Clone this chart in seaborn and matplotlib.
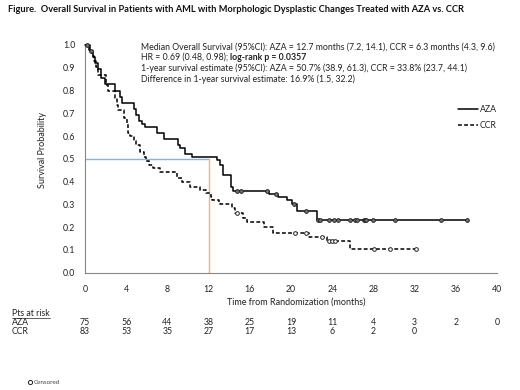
import numpy as np
import pandas as pd
import matplotlib
matplotlib.use("Agg")
import matplotlib.pyplot as plt
import matplotlib.transforms as mtransforms
from matplotlib.lines import Line2D
import seaborn as sns

# ---------------- data ----------------
aza_time = [0, 0.5, 0.8, 1.0, 1.3, 1.6, 1.95, 2.9, 3.4, 3.57, 4.75, 4.95, 5.2, 5.5, 5.85,
            7.0, 7.7, 9.0, 9.2, 9.75, 10.4, 12.8, 13.1, 13.4, 14.2, 14.4, 17.85, 18.7,
            19.6, 20.1, 20.6, 22.5, 37.1]
aza_surv = [1.0, 0.973, 0.947, 0.92, 0.893, 0.853, 0.827, 0.80, 0.773, 0.747, 0.72, 0.693,
            0.667, 0.653, 0.64, 0.613, 0.587, 0.56, 0.547, 0.52, 0.507, 0.493, 0.473, 0.429,
            0.378, 0.36, 0.347, 0.333, 0.318, 0.30, 0.271, 0.231, 0.231]
ccr_time = [0, 0.4, 0.65, 0.9, 1.1, 1.3, 2.04, 2.2, 2.92, 3.08, 3.2, 3.83, 4.06, 4.2, 4.38,
            4.75, 4.96, 5.36, 5.68, 5.94, 6.17, 6.65, 7.3, 8.93, 9.4, 10.2, 11.2, 11.7, 12.2,
            12.35, 13.0, 13.1, 14.3, 14.6, 15.3, 15.7, 17.4, 18.3, 21.7, 23.5, 25.7, 32.1]
ccr_surv = [1.0, 0.976, 0.952, 0.928, 0.904, 0.87, 0.826, 0.797, 0.767, 0.738, 0.716, 0.679,
            0.657, 0.613, 0.599, 0.577, 0.56, 0.53, 0.51, 0.49, 0.475, 0.46, 0.444, 0.414,
            0.40, 0.378, 0.363, 0.35, 0.334, 0.319, 0.307, 0.30, 0.283, 0.261, 0.239, 0.224,
            0.202, 0.176, 0.158, 0.141, 0.104, 0.104]
aza_censor = [0.15, 0.6, 14.8, 15.1, 17.7, 18.5, 20.3, 21.5, 22.6, 22.8, 23.7, 24.2, 24.6,
              25.7, 26.2, 26.4, 27.1, 27.2, 27.3, 28.0, 30.1, 34.6, 37.1]
ccr_censor = [14.8, 20.4, 21.5, 23.0, 23.7, 23.95, 24.3, 28.1, 29.6, 32.1]

risk_times = [0, 4, 8, 12, 16, 20, 24, 28, 32, 36, 40]
aza_risk = [75, 56, 44, 38, 25, 19, 11, 4, 3, 2, 0]
ccr_risk = [83, 53, 35, 27, 17, 13, 6, 2, 0]

median_time = 12
median_surv = 0.5

title = "Figure.  Overall Survival in Patients with AML with Morphologic Dysplastic Changes Treated with AZA vs. CCR"
ann1 = "Median Overall Survival (95%CI): AZA = 12.7 months (7.2, 14.1), CCR = 6.3 months (4.3, 9.6)"
ann2a = "HR = 0.69 (0.48, 0.98); "
ann2b = "log-rank p = 0.0357"
ann3 = "1-year survival estimate (95%CI): AZA = 50.7% (38.9, 61.3), CCR = 33.8% (23.7, 44.1)"
ann4 = "Difference in 1-year survival estimate: 16.9% (1.5, 32.2)"

# ---------------- style ----------------
sns.set_style("white")
FONT = ["Lato", "DejaVu Sans"]
plt.rcParams["font.family"] = FONT
plt.rcParams["font.size"] = 6

df = pd.concat([
    pd.DataFrame({"time": aza_time, "surv": aza_surv, "arm": "AZA"}),
    pd.DataFrame({"time": ccr_time, "surv": ccr_surv, "arm": "CCR"}),
], ignore_index=True)


def step_value(times, survs, t):
    i = np.searchsorted(np.asarray(times), t, side="right") - 1
    return survs[max(i, 0)]


cens = pd.concat([
    pd.DataFrame({"time": aza_censor,
                  "surv": [step_value(aza_time, aza_surv, t) for t in aza_censor], "arm": "AZA"}),
    pd.DataFrame({"time": ccr_censor,
                  "surv": [step_value(ccr_time, ccr_surv, t) for t in ccr_censor], "arm": "CCR"}),
], ignore_index=True)

fig = plt.figure(figsize=(5.2, 3.9), dpi=100)
ax = fig.add_axes([85 / 520, 1 - 272.7 / 390, 412 / 520, 227.7 / 390])

spine_c = "#868686"
blue = "#7db9d8"
orange = "#f0b283"

ax.plot([0, median_time], [median_surv, median_surv], color=blue, lw=1.0, zorder=1)
ax.plot([median_time, median_time], [0, median_surv], color=orange, lw=1.0, zorder=1)

sns.lineplot(data=df, x="time", y="surv", hue="arm", style="arm",
             palette={"AZA": "black", "CCR": "black"},
             dashes={"AZA": "", "CCR": (2.5, 1.5)},
             drawstyle="steps-post", estimator=None, sort=False,
             linewidth=1.1, legend=False, ax=ax, zorder=3)
for ln in ax.get_lines():
    ln.set_clip_on(False)

sns.scatterplot(data=cens[cens.arm == "AZA"], x="time", y="surv", marker="o", s=7,
                facecolor="#777777", edgecolor="#222222", linewidth=0.7, ax=ax, zorder=4,
                clip_on=False, legend=False)
sns.scatterplot(data=cens[cens.arm == "CCR"], x="time", y="surv", marker="o", s=7,
                facecolor="white", edgecolor="#222222", linewidth=0.7, ax=ax, zorder=4,
                clip_on=False, legend=False)

ax.set_xlim(0, 40)
ax.set_ylim(0, 1.0)
ax.set_xticks(risk_times)
ax.set_yticks(np.round(np.arange(0, 1.01, 0.1), 1))
ax.set_yticklabels([f"{v:.1f}" for v in np.arange(0, 1.01, 0.1)])
for s in ["top", "right"]:
    ax.spines[s].set_visible(False)
for s in ["left", "bottom"]:
    ax.spines[s].set_color(spine_c)
    ax.spines[s].set_linewidth(0.8)
ax.tick_params(axis="both", direction="out", length=3, width=0.7, color=spine_c,
               labelsize=6.3, labelcolor="#222222", pad=4)
ax.tick_params(axis="x", pad=6)

ax.set_xlabel("Time from Randomization (months)", fontsize=6.5, color="#222222")
ax.xaxis.set_label_coords((296 - 85) / 412, (272.7 - 302) / 227.7)
ax.xaxis.label.set_va("center")
ax.set_ylabel("Survival Probability", fontsize=6.5, color="#222222")
ax.yaxis.set_label_coords((42 - 85) / 412, (272.7 - 150) / 227.7)
ax.yaxis.label.set_va("center")

handles = [Line2D([], [], color="black", lw=1.1),
           Line2D([], [], color="black", lw=1.1, dashes=(2.5, 1.5))]
leg = ax.legend(handles, ["AZA", "CCR"], loc="upper right",
                bbox_to_anchor=(1.0, (272.7 - 105) / 227.7), frameon=False,
                fontsize=6.3, handlelength=2.3, handletextpad=0.2, labelspacing=0.85,
                borderpad=0, borderaxespad=0)

# title
fig.text(8 / 520, 1 - 10 / 390, title, fontsize=6.7, fontweight="bold", ha="left",
         va="center", color="#111111")

# annotations
x0 = 140.7 / 520
tc = "#222222"
afs = 6.3
fig.text(x0, 1 - 46.7 / 390, ann1, fontsize=afs, va="center", color=tc)
t2 = fig.text(x0, 1 - 57.5 / 390, ann2a, fontsize=afs, va="center", color=tc)
fig.text(x0, 1 - 68.5 / 390, ann3, fontsize=afs, va="center", color=tc)
fig.text(x0, 1 - 79.5 / 390, ann4, fontsize=afs, va="center", color=tc)
fig.canvas.draw()
r = fig.canvas.get_renderer()
bb = t2.get_window_extent(r)
fig.text(bb.x1 / fig.bbox.width, 1 - 57.5 / 390, ann2b, fontsize=afs, fontweight="bold",
         va="center", color=tc)

# risk table
trans = mtransforms.blended_transform_factory(ax.transData, fig.transFigure)
hdr = fig.text(12 / 520, 1 - 313 / 390, "Pts at risk", fontsize=6.3, va="center", color=tc)
fig.text(12 / 520, 1 - 322.3 / 390, "AZA", fontsize=6.3, va="center", color=tc)
fig.text(12 / 520, 1 - 331 / 390, "CCR", fontsize=6.3, va="center", color=tc)
for t, n in zip(risk_times, aza_risk):
    ax.text(t, 1 - 322.3 / 390, str(n), transform=trans, ha="center", va="center",
            fontsize=6.3, color=tc, clip_on=False)
for t, n in zip(risk_times, ccr_risk):
    ax.text(t, 1 - 331 / 390, str(n), transform=trans, ha="center", va="center",
            fontsize=6.3, color=tc, clip_on=False)
fig.canvas.draw()
hb = hdr.get_window_extent(fig.canvas.get_renderer())
fig.add_artist(Line2D([hb.x0 / fig.bbox.width, hb.x1 / fig.bbox.width],
                      [(hb.y0 - 0.3) / fig.bbox.height] * 2,
                      transform=fig.transFigure, color=tc, lw=0.5))

# censored key
fig.add_artist(Line2D([30 / 520], [1 - 382 / 390], marker="o", markersize=3,
                      markerfacecolor="white", markeredgecolor="#222222",
                      markeredgewidth=0.7, linestyle="none", transform=fig.transFigure))
fig.text(33.5 / 520, 1 - 382 / 390, "Censored", fontsize=4.5, va="center", color="#444444")

fig.savefig("out.png", dpi=100)
